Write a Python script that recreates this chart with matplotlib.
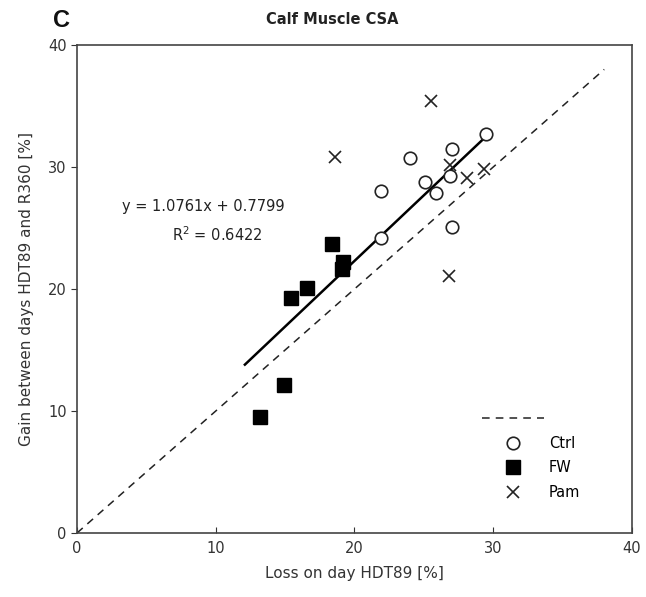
import numpy as np
import matplotlib
matplotlib.use("Agg")
import matplotlib.pyplot as plt
from matplotlib.lines import Line2D

# values (loss on HDT89 vs gain HDT89 -> R360, %)
ctrl_x = [29.5, 27.0, 24.0, 25.1, 26.9, 25.9, 21.9, 21.9, 27.0]
ctrl_y = [32.7, 31.5, 30.7, 28.8, 29.3, 27.9, 28.0, 24.2, 25.1]

fw_x = [18.4, 19.2, 19.1, 16.6, 15.4, 14.9, 13.2]
fw_y = [23.7, 22.2, 21.6, 20.1, 19.3, 12.1, 9.5]

pam_x = [25.5, 18.6, 26.9, 28.1, 29.3, 26.8]
pam_y = [35.4, 30.8, 30.2, 29.1, 29.8, 21.1]

slope = 1.0761
intercept = 0.7799
r2 = 0.6422
fit_range = [12.1, 29.4]
identity_range = [0, 38]

plt.rcParams['font.family'] = ['DejaVu Sans']

fig = plt.figure(figsize=(6.46, 5.97), dpi=100)
ax = fig.add_axes([0.1192, 0.1072, 0.8591, 0.8174])

# identity line and regression line
ax.plot(identity_range, identity_range, ls=(0, (5, 4)), color='#222222', lw=1.1)
fx = np.array(fit_range)
ax.plot(fx, slope * fx + intercept, color='black', lw=1.8)

ax.plot(ctrl_x, ctrl_y, 'o', ms=9, mfc='white', mec='#222222', mew=1.2)
ax.plot(fw_x, fw_y, 's', ms=9.5, mfc='black', mec='black')
ax.plot(pam_x, pam_y, 'x', ms=9, mec='#222222', mew=1.2)

ax.text(0.228, 0.670, "y = %.4fx + %.4f" % (slope, intercept), transform=ax.transAxes,
        ha='center', va='center', fontsize=10.5, color='#222222')
ax.text(0.253, 0.612, "R$^2$ = %.4f" % r2, transform=ax.transAxes,
        ha='center', va='center', fontsize=10.5, color='#222222')

ax.set_xlim(0, 40)
ax.set_ylim(0, 40)
ax.set_xticks([0, 10, 20, 30, 40])
ax.set_yticks([0, 10, 20, 30, 40])
ax.tick_params(axis='x', direction='in', length=4, labelsize=10.5, colors='#333333', pad=6)
ax.tick_params(axis='y', direction='out', length=4, labelsize=10.5, colors='#333333')
for s in ax.spines.values():
    s.set_color('#444444')
    s.set_linewidth(1.2)

ax.set_xlabel("Loss on day HDT89 [%]", fontsize=11, color='#333333', labelpad=7)
ax.set_ylabel("Gain between days HDT89 and R360 [%]", fontsize=11, color='#333333', labelpad=10)

handles = [
    Line2D([], [], ls=(0, (5, 4)), color='#222222', lw=1.1),
    Line2D([], [], ls='', marker='o', ms=9, mfc='white', mec='#222222', mew=1.2),
    Line2D([], [], ls='', marker='s', ms=9.5, mfc='black', mec='black'),
    Line2D([], [], ls='', marker='x', ms=9, mec='#222222', mew=1.2),
]
ax.legend(handles, ['', 'Ctrl', 'FW', 'Pam'], loc='lower right', frameon=False,
          handlelength=4.3, handletextpad=0.3, fontsize=10.5, labelspacing=0.65,
          borderpad=0.4, bbox_to_anchor=(0.93, 0.041))

fig.text(0.514, 0.968, "Calf Muscle CSA", ha='center', va='center',
         fontsize=10.5, fontweight='bold', color='#222222')
fig.text(0.082, 0.965, "C", ha='left', va='center', fontsize=17,
         fontweight='bold', color='#111111', family=['Liberation Sans', 'DejaVu Sans'])

fig.savefig("out.png", dpi=100)
